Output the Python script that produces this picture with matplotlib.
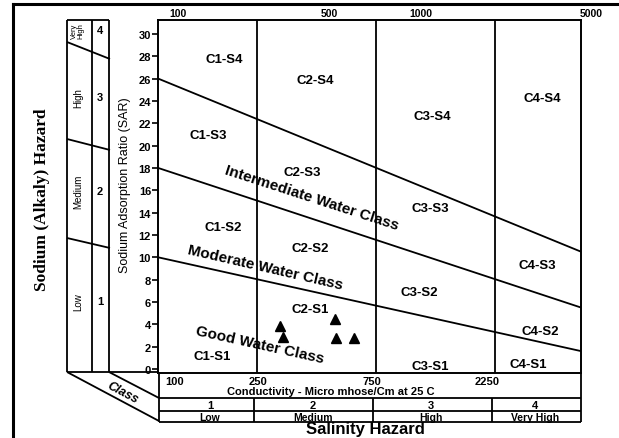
import matplotlib
matplotlib.use('Agg')
import matplotlib.pyplot as plt
from matplotlib.ticker import NullLocator

# sodium class boundaries: SAR at EC = 100 and EC = 5000
ec_ends = [100, 5000]
s4_s3 = [26, 10.5]
s3_s2 = [18, 5.5]
s2_s1 = [10, 1.6]
ec_breaks = [250, 750, 2250]

# water samples
sample_ec = [309, 318, 514, 519, 612]
sample_sar = [3.85, 2.86, 4.48, 2.78, 2.78]

# zone labels
zones = ['C1-S4', 'C2-S4', 'C3-S4', 'C4-S4',
         'C1-S3', 'C2-S3', 'C3-S3', 'C4-S3',
         'C1-S2', 'C2-S2', 'C3-S2', 'C4-S2',
         'C1-S1', 'C2-S1', 'C3-S1', 'C4-S1']
zone_ec = [184, 427, 1259, 3480,
           159, 379, 1236, 3325,
           182, 408, 1117, 3420,
           165, 408, 1236, 3060]
zone_sar = [27.75, 25.9, 22.65, 24.3,
            20.95, 17.6, 14.4, 9.3,
            12.7, 10.8, 6.9, 3.4,
            1.15, 5.35, 0.25, 0.45]

water_classes = ['Intermediate Water Class', 'Moderate Water Class', 'Good Water Class']
wc_ec = [415, 269, 257]
wc_sar = [15.4, 9.1, 2.25]
wc_rot = [-18, -13, -12.5]

sar_ticks = list(range(0, 31, 2))
top_labels = ['100', '500', '1000', '5000']
bottom_labels = ['100', '250', '750', '2250']
class_nums = ['1', '2', '3', '4']
class_names = ['Low', 'Medium', 'High', 'Very High']
sodium_nums = ['4', '3', '2', '1']
sodium_names = ['Very\nHigh', 'High', 'Medium', 'Low']

plt.rcParams['font.family'] = ['Liberation Sans', 'DejaVu Sans']
W, H = 619, 439
fig = plt.figure(figsize=(W / 100, H / 100), dpi=100)
fig.patch.set_facecolor('white')

# overlay in pixel coords for the frame and tables
ov = fig.add_axes([0, 0, 1, 1])
ov.set_xlim(0, W)
ov.set_ylim(H, 0)
ov.axis('off')

lw = 1.3
k = dict(color='black', lw=lw, solid_capstyle='butt')

# outer frame
ov.plot([13, 13], [5, H], color='black', lw=2.2)
ov.plot([13, W], [5, 5], color='black', lw=2.2)

# sodium hazard columns
for xx in [67, 92, 109]:
    ov.plot([xx, xx], [21, 373], **k)
ov.plot([67, 109], [21, 21], **k)
ov.plot([67, 159], [373, 373], **k)
ov.plot([67, 110], [43, 60], **k)
ov.plot([67, 110], [140, 151], **k)
ov.plot([67, 110], [239, 249], **k)
name_y = [31, 98, 192, 302]
for n, nm, yy in zip(sodium_nums, sodium_names, name_y):
    ov.text(100, yy, n, ha='center', va='center', fontsize=8, fontweight='bold')
    ov.text(78, yy, nm, ha='center', va='center', rotation=90,
            fontsize=5.5 if '\n' in nm else 7, linespacing=0.9)

# class parallelogram
ov.plot([67, 159], [373, 422], **k)
ov.plot([109, 159], [373, 399], **k)
ov.text(123, 393, 'Class', rotation=-28, ha='center', va='center',
        fontsize=9, fontweight='bold', style='italic', rotation_mode='anchor')

# salinity table
for yy in [399, 412, 423]:
    ov.plot([159, 581], [yy, yy], **k)
for xx in [159, 581]:
    ov.plot([xx, xx], [374, 423], **k)
for xx in [254, 373, 492]:
    ov.plot([xx, xx], [399, 423], **k)
for t, xx in zip(bottom_labels, [175, 258, 372, 487]):
    ov.text(xx, 382, t, ha='center', va='center', fontsize=8, fontweight='bold')
ov.text(331, 392, 'Conductivity - Micro mhose/Cm at 25 C', ha='center', va='center',
        fontsize=8, fontweight='bold')
for n, nm, xx in zip(class_nums, class_names, [210, 313, 431, 535]):
    ov.text(xx, 406, n, ha='center', va='center', fontsize=8, fontweight='bold')
    ov.text(xx, 418, nm, ha='center', va='center', fontsize=7.5, fontweight='bold')
ov.text(365, 430, 'Salinity Hazard', ha='center', va='center', fontsize=12, fontweight='bold')

for t, xx in zip(top_labels, [178, 329, 421, 591]):
    ov.text(xx, 14, t, ha='center', va='center', fontsize=7.5, fontweight='bold')

ov.text(125, 185, 'Sodium Adsorption Ratio (SAR)', rotation=90, ha='center', va='center',
        fontsize=9)
ov.text(42, 200, 'Sodium (Alkaly) Hazard', rotation=90, ha='center', va='center',
        fontsize=12.5, fontweight='bold', family=['Liberation Serif', 'DejaVu Serif'])

# main diagram
ax = fig.add_axes([158 / W, 1 - 374 / H, 423 / W, 353 / H])
ax.set_facecolor('none')
ax.set_xscale('log')
ax.set_xlim(100, 5000)
ax.set_ylim(-0.36, 31.24)
ax.xaxis.set_major_locator(NullLocator())
ax.xaxis.set_minor_locator(NullLocator())
ax.set_yticks(sar_ticks)
ax.set_yticklabels([str(v) for v in sar_ticks], fontsize=8, fontweight='bold')
ax.tick_params(axis='y', direction='out', length=4, width=1.2, pad=1)
for s in ax.spines.values():
    s.set_linewidth(1.4)

for e in ec_breaks:
    ax.axvline(e, color='black', lw=lw)
for b in [s4_s3, s3_s2, s2_s1]:
    ax.plot(ec_ends, b, color='black', lw=lw)

for z, x, y in zip(zones, zone_ec, zone_sar):
    ax.text(x, y, z, ha='center', va='center', fontsize=9.5, fontweight='bold')
for t, x, y, r in zip(water_classes, wc_ec, wc_sar, wc_rot):
    ax.text(x, y, t, ha='center', va='center', rotation=r, rotation_mode='anchor',
            fontsize=11, fontweight='bold')

ax.plot(sample_ec, sample_sar, '^', color='black', markersize=7.5, clip_on=False)

fig.savefig('out.png', dpi=100)
